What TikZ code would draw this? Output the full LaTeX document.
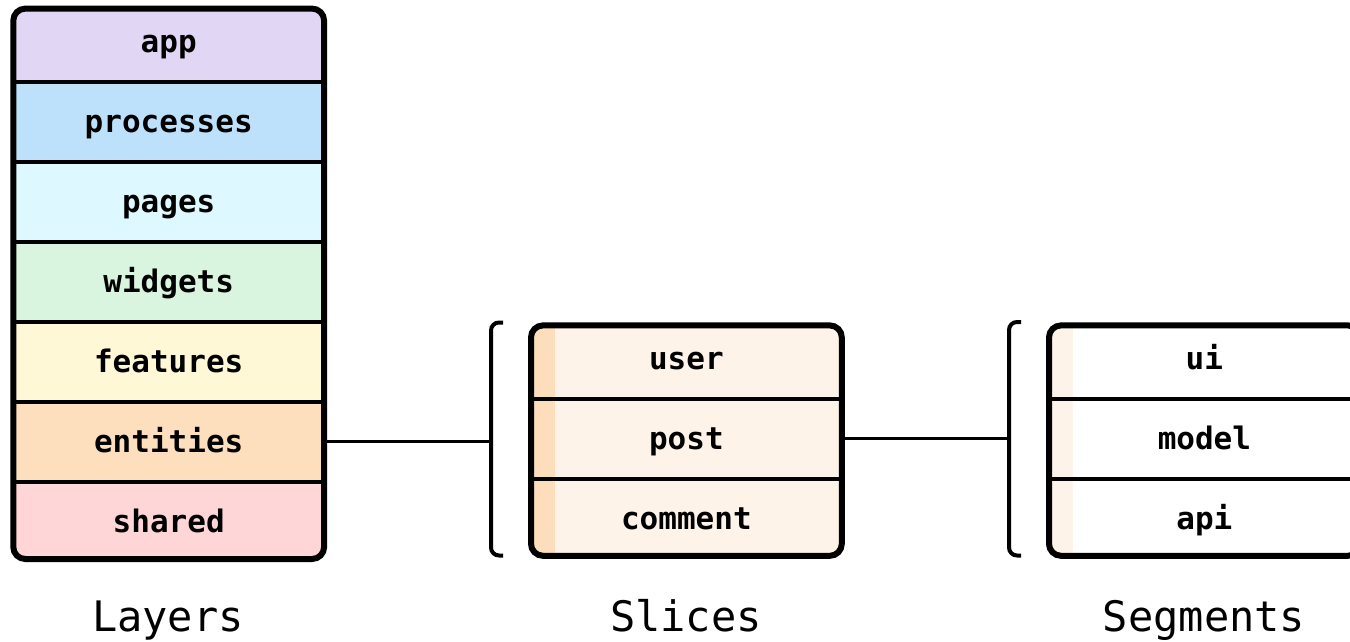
\documentclass[tikz,border=0pt]{standalone}
\usepackage{fontspec}
\setmonofont{DejaVu Sans Mono}
\usetikzlibrary{positioning,calc}

\definecolor{appc}{HTML}{E1D6F4}
\definecolor{procc}{HTML}{BEE1FB}
\definecolor{pagec}{HTML}{DDF8FE}
\definecolor{widgc}{HTML}{D9F4DF}
\definecolor{featc}{HTML}{FEF8D7}
\definecolor{entc}{HTML}{FDDFBE}
\definecolor{shrc}{HTML}{FED6D8}
\definecolor{slicec}{HTML}{FDF3E8}
\definecolor{stripc}{HTML}{FCDEBD}
\definecolor{segstripc}{HTML}{FEF3E8}

\begin{document}
\begin{tikzpicture}[x=0.5pt, y=-0.5pt,
    every node/.style={font=\ttfamily},
    row/.style={minimum width=155pt, minimum height=39.6pt, inner sep=0pt,
                text height=14pt, text depth=3pt,
                font=\ttfamily\bfseries\fontsize{15.5}{18}\selectfont},
    caption/.style={anchor=base, font=\ttfamily\fontsize{21}{24}\selectfont},
    frame/.style={line width=3pt, rounded corners=6pt},
    divider/.style={line width=2pt},
    bracket/.style={line width=2pt, rounded corners=4pt}]

    % parameters
    \def\rowh{79.2}     % height of one row
    \def\stripw{24}     % left strip of slices and segments
    \def\ftop{6.8}      % frame inset at the top
    \def\fbot{2.8}      % frame inset at the bottom

    % page
    \useasboundingbox[fill=white] (0,0) rectangle (1350,642);

    % layers
    \node[row, anchor=north west] (app) at (13.3,1.8) {};
    \node[row, below=0pt of app] (processes) {};
    \node[row, below=0pt of processes] (pages) {};
    \node[row, below=0pt of pages] (widgets) {};
    \node[row, below=0pt of widgets] (features) {};
    \node[row, below=0pt of features] (entities) {};
    \node[row, below=0pt of entities] (shared) {};
    \coordinate (layNW) at ($(app.north west)+(0,\ftop)$);
    \coordinate (laySE) at ($(shared.south east)+(0,-\fbot)$);
    \begin{scope}
        \clip[rounded corners=6pt] (layNW) rectangle (laySE);
        \fill[appc] (app.north west) rectangle (app.south east);
        \fill[procc] (processes.north west) rectangle (processes.south east);
        \fill[pagec] (pages.north west) rectangle (pages.south east);
        \fill[widgc] (widgets.north west) rectangle (widgets.south east);
        \fill[featc] (features.north west) rectangle (features.south east);
        \fill[entc] (entities.north west) rectangle (entities.south east);
        \fill[shrc] (shared.north west) rectangle (shared.south east);
    \end{scope}
    \foreach \n in {app,processes,pages,widgets,features,entities,shared}
        \node[row] at (\n) {\n};
    \foreach \n in {app,processes,pages,widgets,features,entities}
        \draw[divider] (\n.south west) -- (\n.south east);
    \draw[frame] (layNW) rectangle (laySE);

    % slices
    \node[row, anchor=north west] (user) at (531,{1.8+4*\rowh}) {};
    \node[row, below=0pt of user] (post) {};
    \node[row, below=0pt of post] (comment) {};
    \coordinate (slNW) at ($(user.north west)+(0,\ftop)$);
    \coordinate (slSE) at ($(comment.south east)+(0,-\fbot)$);
    \begin{scope}
        \clip[rounded corners=6pt] (slNW) rectangle (slSE);
        \fill[slicec] (slNW) rectangle (slSE);
        \fill[stripc] (slNW) rectangle ($(comment.south west)+(\stripw,0)$);
    \end{scope}
    \foreach \n in {user,post,comment}
        \node[row] at (\n) {\n};
    \draw[divider] (user.south west) -- (user.south east);
    \draw[divider] (post.south west) -- (post.south east);
    \draw[frame] (slNW) rectangle (slSE);

    % segments (cut off by the page edge)
    \node[row, anchor=north west] (ui) at (1049,{1.8+4*\rowh}) {};
    \node[row, below=0pt of ui] (model) {};
    \node[row, below=0pt of model] (api) {};
    \coordinate (sgNW) at ($(ui.north west)+(0,\ftop)$);
    \coordinate (sgSE) at ($(api.south east)+(0,-\fbot)$);
    \begin{scope}
        \clip[rounded corners=6pt] (sgNW) rectangle (sgSE);
        \fill[white] (sgNW) rectangle (sgSE);
        \fill[segstripc] (sgNW) rectangle ($(api.south west)+(\stripw,0)$);
    \end{scope}
    \foreach \n in {ui,model,api}
        \node[row] at (\n) {\n};
    \draw[divider] (ui.south west) -- (ui.south east);
    \draw[divider] (model.south west) -- (model.south east);
    \draw[frame] (sgNW) rectangle (sgSE);

    % brackets
    \draw[bracket] (503,322.5) -- (491,322.5) -- (491,555.5) -- (503,555.5);
    \draw[bracket] (1021,322) -- (1009,322) -- (1009,555.5) -- (1021,555.5);
    \coordinate (slicebr) at (491,0);
    \coordinate (segbr) at (1009,0);

    % connectors
    \draw[line width=1.5pt] (entities.east) -- (entities.east -| slicebr);
    \draw[line width=1.5pt] (post.east) -- (post.east -| segbr);

    % captions
    \node[caption] (layerscap) at (168,631) {Layers};
    \node[caption] (slicescap) at (686,631) {Slices};
    \node[caption] (segmentscap) at (1204,631) {Segments};
\end{tikzpicture}
\end{document}
